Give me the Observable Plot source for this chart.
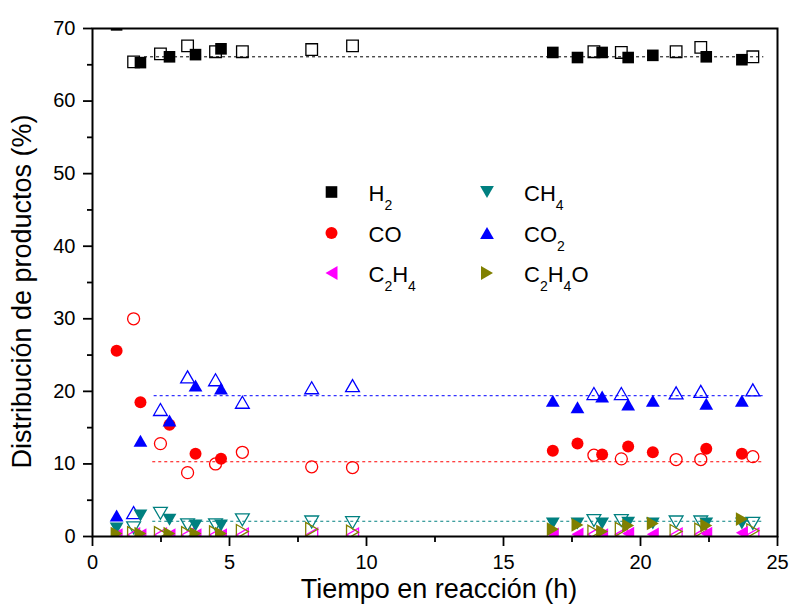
<!DOCTYPE html>
<html>
<head>
<meta charset="utf-8">
<script src="https://cdn.jsdelivr.net/npm/d3@7"></script>
<script src="https://cdn.jsdelivr.net/npm/@observablehq/plot@0.6"></script>
<style>
  body { margin: 0; background: #fff; }
  #chart { width: 790px; height: 605px; }
  #chart svg { display: block; }
</style>
</head>
<body>
<div id="chart"></div>
<script>
// Reaction time (h) of the two runs: filled symbols (run 1) and open symbols (run 2)
const timeFilled = [0.88, 1.75, 2.81, 3.76, 4.69, 16.8, 17.7, 18.6, 19.55, 20.45, 22.4, 23.7];
const timeOpen   = [1.5, 2.48, 3.47, 4.49, 5.47, 8.0, 9.49, 18.3, 19.3, 21.3, 22.2, 24.1];

// Product distribution (%), run 1
const h2Filled    = [70.5, 65.3, 66.1, 66.4, 67.2, 66.7, 66.0, 66.7, 66.0, 66.3, 66.1, 65.7];
const coFilled    = [25.6, 18.5, 15.4, 11.4, 10.7, 11.8, 12.8, 11.3, 12.4, 11.6, 12.1, 11.4];
const ch4Filled   = [1.1, 2.9, 2.3, 1.5, 1.5, 1.8, 1.8, 1.8, 1.9, 1.8, 1.8, 1.8];
const co2Filled   = [2.9, 13.2, 16.0, 20.8, 20.4, 18.7, 17.8, 19.3, 18.2, 18.7, 18.3, 18.7];
const c2h4Filled  = [0.2, 0.2, 0.2, 0.2, 0.2, 0.3, 0.3, 0.2, 0.4, 0.3, 0.4, 0.5];
const c2h4oFilled = [0.4, 0.4, 0.4, 0.4, 0.4, 1.0, 1.6, 0.7, 1.5, 1.8, 1.5, 2.4];

// Product distribution (%), run 2
const h2Open    = [65.4, 66.5, 67.6, 66.8, 66.8, 67.1, 67.6, 66.8, 66.7, 66.8, 67.4, 66.1];
const coOpen    = [30.0, 12.8, 8.8, 10.0, 11.6, 9.6, 9.5, 11.2, 10.7, 10.6, 10.6, 11.0];
const ch4Open   = [1.2, 3.2, 1.6, 1.6, 2.3, 2.0, 1.9, 2.2, 2.2, 2.0, 2.0, 1.8];
const co2Open   = [3.3, 17.5, 22.0, 21.6, 18.5, 20.5, 20.8, 19.7, 19.7, 19.8, 20.0, 20.2];
const c2h4Open  = [0.2, 0.2, 0.2, 0.2, 0.2, 0.2, 0.2, 0.3, 0.3, 0.2, 0.3, 0.2];
const c2h4oOpen = [0.4, 0.4, 0.4, 0.5, 0.7, 1.0, 0.6, 0.6, 1.0, 0.7, 0.9, 0.8];

// Steady-state average levels (dashed lines)
const levelSeries = ["H2", "CO", "CO2", "CH4"];
const levelValue  = [66.1, 10.3, 19.4, 2.1];
const levelStart  = [1.9, 2.2, 2.25, 2.2];
const levelEnd    = [24.5, 24.5, 24.5, 24.5];

// Axis ticks
const xMajor = [0, 5, 10, 15, 20, 25];
const xMinor = [2.5, 7.5, 12.5, 17.5, 22.5];
const yMajor = [0, 10, 20, 30, 40, 50, 60, 70];
const yMinor = [5, 15, 25, 35, 45, 55, 65];

// Series identity, colour and legend text (pieces: [text, subscript?])
const seriesKeys = ["H2", "CO", "CH4", "CO2", "C2H4", "C2H4O"];
const seriesColor = {H2: "#000000", CO: "#ff0000", CH4: "#008080", CO2: "#0000ff", C2H4: "#ff00ff", C2H4O: "#808000"};
const legendOrder = ["H2", "CH4", "CO", "CO2", "C2H4", "C2H4O"];
const legendText = {
  H2: [["H", false], ["2", true]],
  CH4: [["CH", false], ["4", true]],
  CO: [["CO", false]],
  CO2: [["CO", false], ["2", true]],
  C2H4: [["C", false], ["2", true], ["H", false], ["4", true]],
  C2H4O: [["C", false], ["2", true], ["H", false], ["4", true], ["O", false]]
};

// Polygon symbols scaled by the dot radius
function polygon(points) {
  return {
    draw(ctx, size) {
      const r = Math.sqrt(size / Math.PI);
      ctx.moveTo(points[0][0] * r, points[0][1] * r);
      for (let i = 1; i < points.length; ++i) ctx.lineTo(points[i][0] * r, points[i][1] * r);
      ctx.closePath();
    }
  };
}
const symSquare = polygon([[-1, -1], [1, -1], [1, 1], [-1, 1]]);
const symUp     = polygon([[0, -1], [1.15, 1], [-1.15, 1]]);
const symDown   = polygon([[-1.15, -1], [1.15, -1], [0, 1]]);
const symLeft   = polygon([[1, -1.15], [1, 1.15], [-1, 0]]);
const symRight  = polygon([[-1, -1.15], [-1, 1.15], [1, 0]]);
const seriesSymbol = {H2: symSquare, CO: "circle", CH4: symDown, CO2: symUp, C2H4: symLeft, C2H4O: symRight};
const seriesR = {H2: 5.8, CO: 6, CH4: 6, CO2: 6, C2H4: 6, C2H4O: 6};

const filledValues = {H2: h2Filled, CO: coFilled, CH4: ch4Filled, CO2: co2Filled, C2H4: c2h4Filled, C2H4O: c2h4oFilled};
const openValues   = {H2: h2Open, CO: coOpen, CH4: ch4Open, CO2: co2Open, C2H4: c2h4Open, C2H4O: c2h4oOpen};

const toRows = (times, values) => times.map((t, i) => ({t, v: values[i]}));

const levels = levelSeries.map((s, i) => ({s, v: levelValue[i], x1: levelStart[i], x2: levelEnd[i]}));

const openMarks = seriesKeys.map(k => Plot.dot(toRows(timeOpen, openValues[k]), {
  x: "t", y: "v", symbol: seriesSymbol[k], r: seriesR[k],
  fill: "none", stroke: seriesColor[k], strokeWidth: 1.3, clip: true
}));
const filledMarks = seriesKeys.map(k => Plot.dot(toRows(timeFilled, filledValues[k]), {
  x: "t", y: "v", symbol: seriesSymbol[k], r: seriesR[k],
  fill: seriesColor[k], stroke: "none", clip: true
}));

const font = "'Liberation Sans', Arial, Helvetica, sans-serif";

const chart = Plot.plot({
  width: 790,
  height: 605,
  marginLeft: 92,
  marginRight: 13,
  marginTop: 28,
  marginBottom: 69,
  style: {fontFamily: font, fontSize: "20px", color: "#000", background: "#fff"},
  x: {domain: [0, 25]},
  y: {domain: [0, 70]},
  marks: [
    Plot.ruleY(levels, {
      y: "v", x1: "x1", x2: "x2",
      stroke: d => seriesColor[d.s], strokeWidth: 1, strokeDasharray: "3,3"
    }),
    ...openMarks,
    ...filledMarks,
    Plot.axisX({ticks: xMajor, tickSize: 10, tickPadding: 8, strokeWidth: 1.8, fontSize: 20, label: null, tickFormat: d => String(d)}),
    Plot.axisX({ticks: xMinor, tickSize: 6, strokeWidth: 1.8, text: null, label: null}),
    Plot.axisY({ticks: yMajor, tickSize: 9, tickPadding: 8, strokeWidth: 1.8, fontSize: 20, label: null, tickFormat: d => String(d)}),
    Plot.axisY({ticks: yMinor, tickSize: 5, strokeWidth: 1.8, text: null, label: null}),
    Plot.frame({stroke: "#000", strokeWidth: 2}),
    Plot.text(["Tiempo en reacción (h)"], {
      frameAnchor: "bottom", dx: 4, dy: 53, fontSize: 27, fill: "#000",
      textAnchor: "middle", lineAnchor: "middle"
    }),
    Plot.text(["Distribución de productos (%)"], {
      frameAnchor: "left", dx: -70, dy: 9, rotate: -90, fontSize: 27, fill: "#000",
      textAnchor: "middle", lineAnchor: "middle"
    })
  ]
});

document.getElementById("chart").appendChild(chart);

// Legend inside the plotting area: two columns, three rows
const legend = d3.select(chart).append("g")
  .attr("font-family", font)
  .attr("text-anchor", "start");
const colX = [331.5, 487];
const rowY = [192, 233, 273];
legendOrder.forEach((k, i) => {
  const cx = colX[i % 2], cy = rowY[Math.floor(i / 2)];
  const sym = seriesSymbol[k] === "circle" ? d3.symbolCircle : seriesSymbol[k];
  const r = seriesR[k];
  legend.append("path")
    .attr("transform", `translate(${cx},${cy})`)
    .attr("d", d3.symbol(sym, r * r * Math.PI)())
    .attr("fill", seriesColor[k]);
  const text = legend.append("text")
    .attr("x", cx + 37)
    .attr("y", cy + 9)
    .attr("font-size", 22)
    .attr("text-anchor", "start")
    .attr("fill", "#000");
  let shifted = false;
  legendText[k].forEach(([s, sub]) => {
    const span = text.append("tspan").text(s);
    if (sub && !shifted) { span.attr("dy", 9).attr("font-size", 14); shifted = true; }
    else if (sub) { span.attr("font-size", 14); }
    else if (shifted) { span.attr("dy", -9); shifted = false; }
  });
});
</script>
</body>
</html>
